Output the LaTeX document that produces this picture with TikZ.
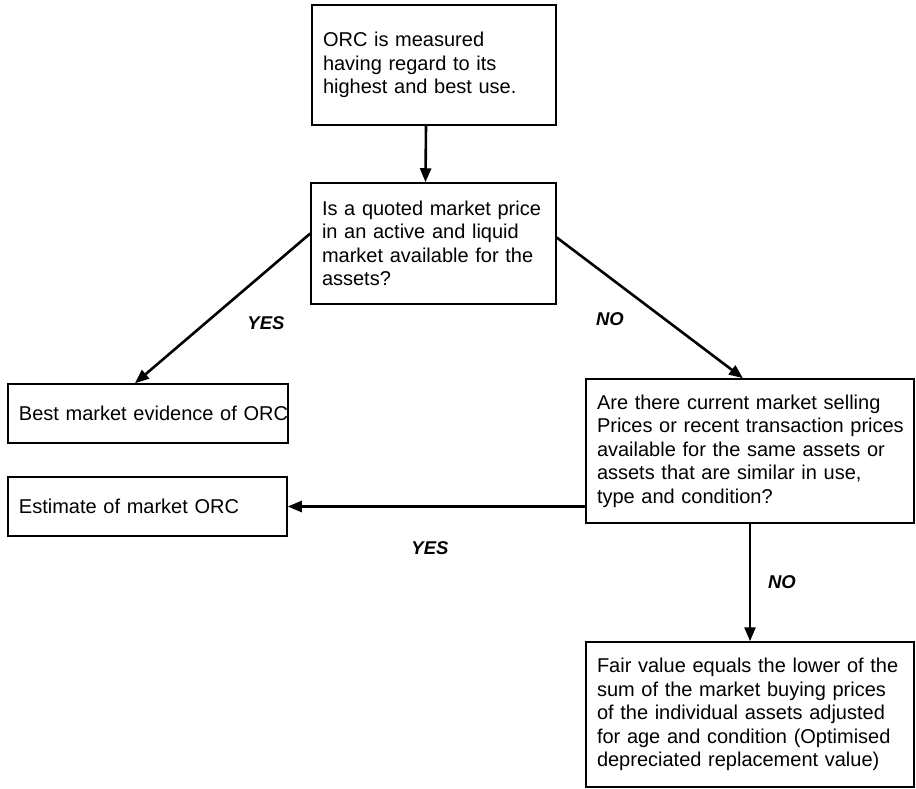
\documentclass[tikz,border=0pt]{standalone}
\usepackage{fontspec}
\setmainfont{Liberation Sans}
\usetikzlibrary{arrows.meta}
\begin{document}
\begin{tikzpicture}[
	x=1pt, y=-1pt,
	box/.style={draw, line width=1.5pt, align=left, inner xsep=11pt, inner ysep=0pt,
		font=\fontsize{20}{23.5}\selectfont},
	flow/.style={-{Triangle[length=14pt,width=11pt]}, line width=2.6pt},
	answer/.style={font=\fontsize{18.5}{20}\selectfont\bfseries\itshape}
	]
	\useasboundingbox (0,0) rectangle (916,788);
	\node[box, text width=222pt, minimum height=120pt]  (b1) at (434, 65)  {ORC is measured\\having regard to its\\highest and best use.};
	\node[box, text width=223pt, minimum height=121pt]  (b2) at (433.5, 243.5)  {Is a quoted market price\\in an active and liquid\\market available for the\\assets?};
	\node[box, text width=258pt, minimum height=59pt]  (b3) at (148, 413.5)  {\mbox{Best market evidence of ORC}};
	\node[box, text width=306pt, minimum height=144pt]  (b4) at (750, 451)  {Are there current market selling\\\mbox{Prices or recent transaction prices}\\available for the same assets or\\assets that are similar in use,\\type and condition?};
	\node[box, text width=257pt, minimum height=59pt]  (b5) at (147.5, 506.5)  {Estimate of market ORC};
	\node[box, text width=306pt, minimum height=145pt]  (b6) at (750, 714.5)  {Fair value equals the lower of the\\sum of the market buying prices\\of the individual assets adjusted\\for age and condition (Optimised\\depreciated replacement value)};
	\node[answer]  (yes1) at (266, 323)  {YES};
	\node[answer]  (no1) at (610, 319)  {NO};
	\node[answer]  (yes2) at (430, 548)  {YES};
	\node[answer]  (no2) at (782, 582)  {NO};
	\path[draw, flow]  ([xshift=-8pt]b1.south) -- ([xshift=-8pt]b2.north);
	\path[draw, flow]  ([yshift=10pt]b2.west) -- ([xshift=-13pt]b3.north);
	\path[draw, flow]  ([yshift=6pt]b2.east) -- ([xshift=-7pt]b4.north);
	\path[draw, flow]  (b4.west |- b5.east) -- (b5.east);
	\path[draw, flow]  (b4.south) -- (b6.north);
\end{tikzpicture}
\end{document}
